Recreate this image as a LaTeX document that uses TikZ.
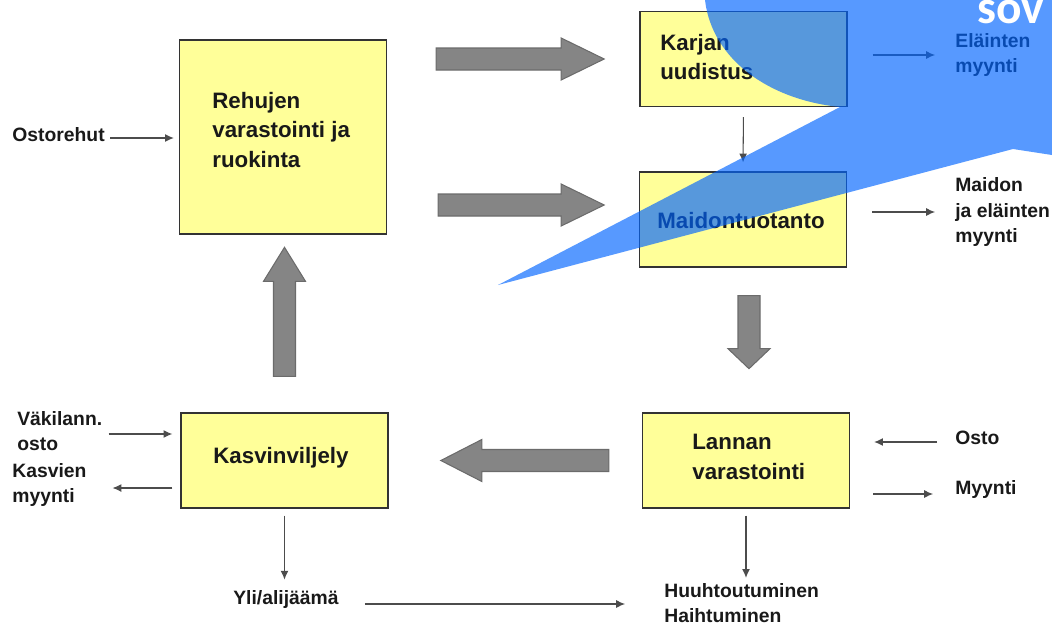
\documentclass[tikz,border=0pt]{standalone}
\usepackage{fontspec}
\setmainfont{Liberation Sans}
\newfontfamily\kuplafont{Carlito}
\usetikzlibrary{arrows.meta}

\definecolor{keltainen}{RGB}{255,255,153}
\definecolor{kupla}{RGB}{0,100,255}

\tikzset{
  laatikko/.style={draw=black!80, fill=keltainen, line width=0.8pt, inner sep=0pt,
    minimum width=4.14cm, minimum height=1.9cm},
  teksti/.style={anchor=west, align=left, inner sep=0pt, text=black!90,
    font=\fontsize{12.7}{17}\selectfont\bfseries},
  selite/.style={anchor=west, align=left, inner sep=0pt, text=black!90,
    font=\fontsize{11}{14.5}\selectfont\bfseries},
  ohut/.style={draw=black!70, line width=0.6pt, -{Latex[length=5pt,width=4.5pt]}},
  paksu/.style={draw=black!58, fill=black!48, line width=0.6pt, line join=miter},
  pics/isonuoli/.style 2 args={code={
    \draw[paksu] (0,-11) -- (#1-#2,-11) -- (#1-#2,-21) -- (#1,0)
      -- (#1-#2,21) -- (#1-#2,11) -- (0,11) -- cycle;}}
}

\begin{document}
\begin{tikzpicture}[x=0.02cm, y=-0.02cm]
  \useasboundingbox (0,0) rectangle (1052,626);
  \clip (0,0) rectangle (1052,626);

  % laatikot
  \node[laatikko, minimum height=3.88cm] (rehu) at (283,137) {};
  \node[laatikko] (karja) at (743.5,59) {};
  \node[laatikko] (maito) at (743,219.5) {};
  \node[laatikko] (kasvi) at (284.5,460.5) {};
  \node[laatikko] (lanta) at (746,460.5) {};

  \node[teksti] (rehuteksti) at (212,130) {Rehujen\\varastointi ja\\ruokinta};
  \node[teksti] (karjateksti) at (660,57) {Karjan\\uudistus};
  \node[teksti] (maitoteksti) at (657,221) {Maidontuotanto};
  \node[teksti] (kasviteksti) at (213,458) {Kasvinviljely};
  \node[teksti] (lantateksti) at (692,457) {Lannan\\varastointi};

  % selitteet
  \node[selite] (ostorehut) at (12,135) {Ostorehut};
  \node[selite] (elaimet) at (955,55) {Eläinten\\myynti};
  \node[selite] (maidonmyynti) at (955,212) {Maidon\\ja eläinten\\myynti};
  \node[selite] (vakilannoite) at (17,431) {Väkilann.\\osto};
  \node[selite] (kasvimyynti) at (12,485) {Kasvien\\myynti};
  \node[selite] (ylijaama) at (233,599) {Yli/alijäämä};
  \node[selite] (huuhtoutuminen) at (664,603) {Huuhtoutuminen\\Haihtuminen};
  \node[selite] (osto) at (955,438) {Osto};
  \node[selite] (myynti) at (955,489) {Myynti};

  % ohuet nuolet
  \draw[ohut, shorten <=0.1cm, shorten >=0.1cm] ([yshift=-0.06cm]ostorehut.east) -- ([yshift=-0.06cm]ostorehut.east -| rehu.west);
  \draw[ohut, shorten <=0.2cm, shorten >=0.18cm] (karja.south) -- (maito.north);
  \draw[ohut, shorten <=0.5cm, shorten >=0.4cm] (karja.east |- elaimet.west) -- (elaimet.west);
  \draw[ohut, shorten <=0.5cm, shorten >=0.4cm] (maito.east |- maidonmyynti.west) -- (maidonmyynti.west);
  \draw[ohut, shorten <=0.12cm, shorten >=0.16cm] ([yshift=-0.06cm]vakilannoite.east) -- ([yshift=-0.06cm]vakilannoite.east -| kasvi.west);
  \draw[ohut, shorten <=0.16cm, shorten >=0.2cm] ([yshift=-0.06cm]kasvi.west |- kasvimyynti.east) -- ([yshift=-0.06cm]vakilannoite.east |- kasvimyynti.east);
  \draw[ohut, shorten <=0.14cm, shorten >=0.2cm] (kasvi.south) -- (kasvi.south |- ylijaama.north);
  \draw[ohut, shorten <=0.52cm, shorten >=0.78cm] ([yshift=-0.1cm]ylijaama.east) -- ([yshift=-0.1cm]ylijaama.east -| huuhtoutuminen.west);
  \draw[ohut, shorten <=0.14cm, shorten >=0.1cm] (lanta.south) -- (lanta.south |- huuhtoutuminen.north);
  \draw[ohut, shorten <=0.36cm, shorten >=0.48cm] ([yshift=-0.08cm]osto.west) -- ([yshift=-0.08cm]osto.west -| lanta.east);
  \draw[ohut, shorten <=0.46cm, shorten >=0.44cm] ([yshift=-0.1cm]lanta.east |- myynti.west) -- ([yshift=-0.1cm]myynti.west);

  % paksut nuolet
  \pic at ([xshift=0.98cm]rehu.east |- karja.west) {isonuoli={168}{43}};
  \pic at ([xshift=1.02cm,yshift=0.29cm]rehu.east |- maito.west) {isonuoli={166}{43}};
  \pic[rotate=-90] at ([xshift=0.12cm,yshift=-0.56cm]maito.south) {isonuoli={73}{20}};
  \pic[rotate=90] at ([yshift=0.72cm]kasvi.north) {isonuoli={129}{34}};
  \pic[rotate=180] at ([xshift=-0.66cm]lanta.west) {isonuoli={168}{41}};

  % puhekupla
  \fill[kupla, fill opacity=0.66] (705,0) .. controls (712,60) and (770,100) .. (840,107)
    -- (498,285) -- (1013,149) -- (1052,155) -- (1052,0) -- cycle;
  \node[anchor=base west, inner sep=0pt, text depth=0pt, text=white, font=\kuplafont\fontsize{27}{27}\selectfont\bfseries] (sov) at (977,23) {sov};
\end{tikzpicture}
\end{document}
